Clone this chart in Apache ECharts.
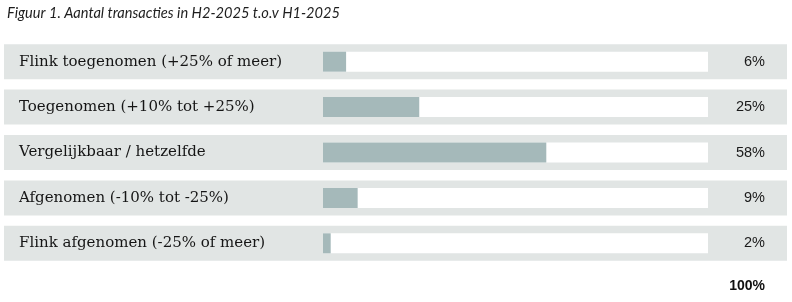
<!DOCTYPE html>
<html><head><meta charset="utf-8">
<script src="https://cdn.jsdelivr.net/npm/echarts@6/dist/echarts.min.js"></script>
<style>html,body{margin:0;padding:0;background:#fff}#c{width:792px;height:302px}</style>
</head><body><div id="c"></div>
<script>
const titleText = 'Figuur 1. Aantal transacties in H2-2025 t.o.v H1-2025';
const categories = ['Flink toegenomen (+25% of meer)', 'Toegenomen (+10% tot +25%)', 'Vergelijkbaar / hetzelfde', 'Afgenomen (-10% tot -25%)', 'Flink afgenomen (-25% of meer)'];
const values = [6, 25, 58, 9, 2];
const valueLabels = values.map(v => v + '%');
const total = values.reduce((a, b) => a + b, 0);

const chart = echarts.init(document.getElementById('c'), null, {renderer: 'canvas'});
const TOP = 39, BOTTOM = 36;
chart.setOption({
  animation: false,
  title: [
    {text: titleText, left: 2, top: 1, textStyle: {fontFamily: 'Lato', fontStyle: 'italic', fontWeight: 'normal', fontSize: 14.6, color: '#1e1e1e'}},
    {text: total + '%', right: 22, top: 274, textStyle: {fontFamily: 'Liberation Sans', fontWeight: 'bold', fontSize: 14, color: '#111'}}
  ],
  grid: [
    {left: 4, right: 5, top: TOP, bottom: BOTTOM},
    {left: 323, right: 84, top: TOP, bottom: BOTTOM}
  ],
  xAxis: [
    {gridIndex: 0, type: 'value', min: 0, max: 1, show: false},
    {gridIndex: 1, type: 'value', min: 0, max: 100, show: false}
  ],
  yAxis: [
    {gridIndex: 0, type: 'category', data: categories, inverse: true, position: 'left',
     axisLine: {show: false}, axisTick: {show: false}, splitLine: {show: false},
     axisLabel: {inside: true, margin: 15, fontFamily: 'DejaVu Serif', fontSize: 15, color: '#151515'}, z: 10},
    {gridIndex: 0, type: 'category', data: valueLabels, inverse: true, position: 'right',
     axisLine: {show: false}, axisTick: {show: false}, splitLine: {show: false},
     axisLabel: {inside: true, margin: 22, fontFamily: 'Liberation Sans', fontSize: 14.5, color: '#1a1a1a'}, z: 10},
    {gridIndex: 1, type: 'category', data: categories, inverse: true, show: false}
  ],
  series: [
    {type: 'bar', xAxisIndex: 0, yAxisIndex: 0, data: values.map(() => 0), barWidth: 35,
     showBackground: true, backgroundStyle: {color: '#e1e5e4'}, silent: true},
    {type: 'bar', xAxisIndex: 1, yAxisIndex: 2, data: values, barWidth: 20,
     showBackground: true, backgroundStyle: {color: '#ffffff'},
     itemStyle: {color: '#a5b9ba'}, silent: true}
  ]
});
</script></body></html>
